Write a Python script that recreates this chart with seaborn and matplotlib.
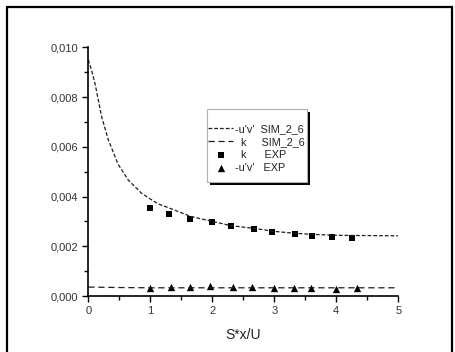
import matplotlib
matplotlib.use("Agg")
import matplotlib.pyplot as plt
import seaborn as sns
from matplotlib.lines import Line2D
from matplotlib.patches import Rectangle

# ---- data ----
x_sim = [0, 0.05, 0.108, 0.16, 0.216, 0.32, 0.48, 0.645, 0.86, 1.0, 1.13, 1.345,
         1.65, 2.0, 2.3, 2.67, 3.0, 3.33, 3.6, 4.0, 4.5, 5.0]
k_sim = [0.0095, 0.0091, 0.00855, 0.0079, 0.0072, 0.0063, 0.0053, 0.00466, 0.00413,
         0.0039, 0.0037, 0.0035, 0.0032, 0.0030, 0.00283, 0.00272, 0.0026, 0.00252,
         0.00248, 0.00244, 0.00243, 0.00242]
x_uv_sim = [0, 0.5, 1, 2, 3, 4, 5]
uv_sim = [0.00036, 0.00034, 0.00033, 0.00033, 0.00033, 0.00033, 0.00033]

x_k_exp = [1.0, 1.30, 1.645, 1.995, 2.30, 2.67, 2.96, 3.33, 3.61, 3.93, 4.25]
k_exp = [0.00353, 0.0033, 0.0031, 0.00299, 0.00281, 0.00271, 0.00259, 0.00248,
         0.00242, 0.00237, 0.00232]
x_uv_exp = [1.0, 1.33, 1.64, 1.96, 2.34, 2.64, 3.0, 3.31, 3.59, 3.99, 4.33]
uv_exp = [0.00032, 0.00035, 0.00035, 0.00040, 0.00035, 0.00037, 0.00032, 0.00032,
          0.00031, 0.00030, 0.00032]

x_ticks = [0, 1, 2, 3, 4, 5]
y_ticks = [0.000, 0.002, 0.004, 0.006, 0.008, 0.010]
y_tick_labels = ["0,000", "0,002", "0,004", "0,006", "0,008", "0,010"]
labels = ["-u'v'  SIM_2_6", "  k     SIM_2_6", "  k      EXP", "-u'v'   EXP"]

sns.set_style("ticks")
plt.rcParams['font.family'] = ['Liberation Sans', 'DejaVu Sans']

W, H = 455, 352
fig = plt.figure(figsize=(W / 100, H / 100), dpi=100)
ax_l, ax_b, ax_w, ax_h = 88.3, 296.0, 310.0, 248.7
ax = fig.add_axes([ax_l / W, 1 - ax_b / H, ax_w / W, ax_h / H])


def px2ax(px, py):
    return (px - ax_l) / ax_w, (ax_b - py) / ax_h


lc = "#1e1e1e"
sns.lineplot(x=x_sim, y=k_sim, ax=ax, color=lc, lw=0.9, linestyle=(0, (3, 1.6)),
             label=labels[0], sort=False)
sns.lineplot(x=x_uv_sim, y=uv_sim, ax=ax, color=lc, lw=0.9, linestyle=(0, (5, 3)),
             label=labels[1], sort=False)
sns.scatterplot(x=x_k_exp, y=k_exp, ax=ax, marker="s", s=18, color="black",
                edgecolor="black", linewidth=0, label=labels[2])
sns.scatterplot(x=x_uv_exp, y=uv_exp, ax=ax, marker="^", s=28, color="black",
                edgecolor="black", linewidth=0, label=labels[3])

ax.set_xlim(0, 5)
ax.set_ylim(0, 0.010)
ax.set_xticks(x_ticks)
ax.set_xticklabels([str(t) for t in x_ticks])
ax.set_yticks(y_ticks)
ax.set_yticklabels(y_tick_labels)
ax.set_xticks([0.5, 1.5, 2.5, 3.5, 4.5], minor=True)
ax.set_yticks([0.001, 0.003, 0.005, 0.007, 0.009], minor=True)
sns.despine(ax=ax)
for s in ["left", "bottom"]:
    ax.spines[s].set_linewidth(1.2)
    ax.spines[s].set_color("black")
ax.tick_params(which="major", length=4, width=1, color="black", labelsize=8,
               labelcolor="#333333", pad=3, direction="out")
ax.tick_params(which="minor", length=3, width=1, color="black", direction="out")
ax.set_xlabel("S*x/U", fontsize=10, color="#222222", labelpad=9)
ax.set_ylabel("")

# legend frame with black drop shadow (drawn under the legend)
fx0, fy0 = px2ax(207, 182)
fx1, fy1 = px2ax(307, 109)
sx, sy = px2ax(210, 185)
ax.add_patch(Rectangle((sx, sy), fx1 - fx0, fy1 - fy0, transform=ax.transAxes,
                       facecolor="black", edgecolor="none", zorder=4, clip_on=False))
ax.add_patch(Rectangle((fx0, fy0), fx1 - fx0, fy1 - fy0, transform=ax.transAxes,
                       facecolor="white", edgecolor="#b0b0b0", lw=0.8, zorder=4.5,
                       clip_on=False))

h, l = ax.get_legend_handles_labels()
ax_anchor = px2ax(208, 124)
leg = ax.legend(h, l, loc="upper left", bbox_to_anchor=ax_anchor,
                borderaxespad=0, frameon=False, fontsize=7.8,
                handlelength=2.35, handletextpad=0.15, borderpad=0,
                labelspacing=0.28)
leg.set_zorder(6)
for t in leg.get_texts():
    t.set_color("#222222")

# figure border (left, top, right)
fig.add_artist(Line2D([7 / W, 7 / W], [0, 1 - 7 / H], transform=fig.transFigure,
                      color="black", lw=1.6))
fig.add_artist(Line2D([7 / W, 452 / W], [1 - 7 / H, 1 - 7 / H],
                      transform=fig.transFigure, color="black", lw=1.6))
fig.add_artist(Line2D([452 / W, 452 / W], [0, 1 - 7 / H], transform=fig.transFigure,
                      color="black", lw=1.6))

fig.savefig("out.png", dpi=100, facecolor="white")
